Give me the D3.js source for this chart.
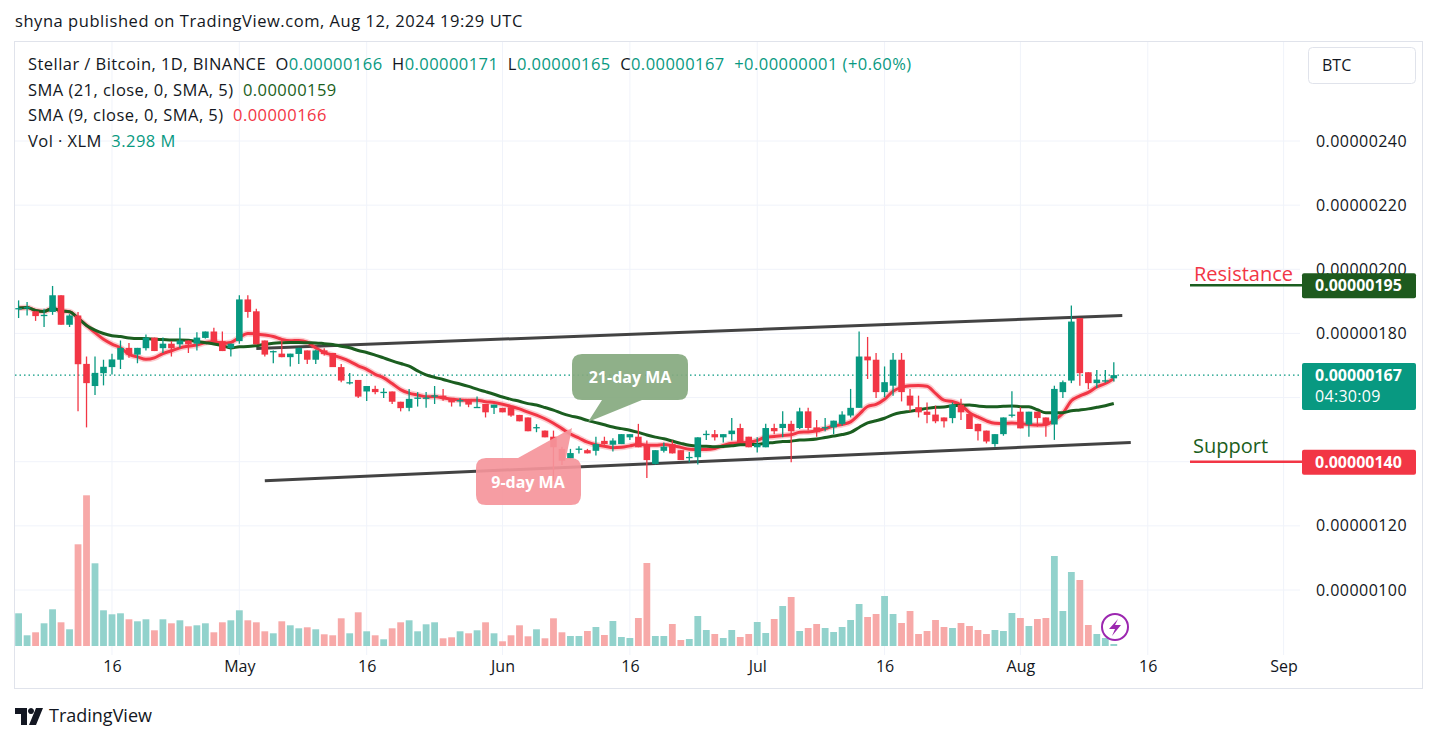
<!DOCTYPE html>
<html><head><meta charset="utf-8">
<script src="https://cdn.jsdelivr.net/npm/d3@7/dist/d3.min.js"></script>
<style>body{margin:0;background:#fff}svg{display:block;font-family:"Open Sans",Roboto,sans-serif}</style>
</head><body><svg id="c" width="1437" height="741"></svg>
<script>
const startDate = new Date(2024,3,5);
const opens  = [187.7,188,186.9,185.6,186.7,191.9,182.7,185.6,170.5,163.6,167.6,169.5,171.8,175.5,173.4,175.4,178.7,175.4,176.8,176.6,177.8,176.8,178.6,180.6,177.6,175.4,177.6,190.6,186.9,177.8,174.3,173.7,172.6,173.6,174.7,171.8,174.7,173.9,169.5,164.6,165.5,161.9,162.7,161.6,161.9,158.7,156.8,159.8,159.8,160.5,160.6,159.9,159,159.6,156.9,158,156.8,156.8,157,154.6,153.8,150.6,149.7,147.8,144,141,143.9,143.6,143.4,146.5,145.3,145.5,147.6,147.8,145.5,139.3,143.4,145.5,143.6,141.3,141.4,148.5,148.6,147.6,148.6,150.5,147.8,144.5,144.5,150.5,150.5,151.8,150.5,155.7,150.7,150.6,150.7,151.8,154.4,156.8,172.8,171.8,161.7,163.7,171.8,160.6,157,155.6,154.7,153.8,153.6,157.8,154.9,151.8,149.7,145.5,148.6,154.5,155.6,151.6,155.6,153.8,151.6,161.7,165.3,184.8,167.9,164.5,165.2,166];
const highs  = [190.3,189.8,186.9,187.7,194.8,191.9,186,186.7,172.8,172.8,171.8,173.7,177.8,177,175.5,179.7,178.7,178.7,177.6,181.8,177.8,180.4,180.6,181.8,180.6,176.8,191.9,191.9,187.7,177.8,174.7,178,173.7,175.5,174.7,175,175.4,173.9,170.5,167.7,165.5,163.6,163.7,162.9,161.9,158.7,162.7,161.7,161.7,163.6,162.7,159.9,159.9,159.6,160.3,158,157.8,156.8,157,154.6,153.8,151.7,149.7,149.7,144.7,144,144.8,144,147.8,147.8,147.3,148.6,148.6,151.8,146.6,143.6,146,146.6,143.6,143,147.6,149.7,149.9,148.6,153.6,151.8,147.8,147.6,151.8,151.8,155.7,152.8,156.8,156.8,153,153.6,152.8,155.7,162.7,180.6,178.9,173.9,169.7,173.9,173.9,162.7,160.6,158.5,157.5,153.8,158.5,159.6,155.7,151.8,149.7,148.6,153.8,162,157,155.6,155.6,153.8,163.7,165.3,188.7,184.8,167.9,168.6,168.6,171];
const lows   = [184.8,185.6,183.9,182,185.8,182.7,182,155.7,150.7,160.8,163.8,167.2,168.9,172.4,170.7,174.7,174.5,173.9,172.8,175.5,173.9,174.7,178.4,177.6,174.5,172.8,176.8,184.9,176.6,172.8,170.7,172.6,169.7,170.5,170.5,170.5,173.1,169.5,164.8,164.1,159.9,158.9,161,159.9,158,155.7,155.7,157.2,156.8,158,159,157.2,157.2,157,156.8,153.8,154.9,155.4,154,152.6,149.5,149.2,147.6,134,139,140.8,142.6,142.6,141.9,145.3,143.2,145.5,146.8,144.5,134.9,139.1,142.9,142.6,140.5,139.8,139.1,146.8,146.6,146,146.6,146,144.5,142.9,144.5,148.6,147.6,139.8,150.2,149.7,147.8,149.5,148.6,151.2,153.8,156.8,165.8,159.9,160.1,160.6,158.8,155.7,153.8,152,152,150.7,152,153,150.2,146.6,145.7,144.7,148.1,153.8,150.4,147.8,150.9,147.8,146.8,159.9,164.5,163.7,162.7,163,164.6,165];
const closes = [187.9,188.2,185.4,185.8,191.9,182.7,185.6,170.4,164.5,167.7,169.6,171.9,175.5,173.4,175.5,178.7,174.5,176.8,175.4,177.8,176.6,178.7,180.6,177.6,174.5,176.8,190.6,186.7,176.6,173.4,174.5,172.6,173.7,175.5,171.8,174.7,173.6,169.5,165.3,164.8,160.3,163.6,161.7,161.8,158.7,156.7,159.6,160,160,160.7,159.6,158.5,159.2,157.8,157.1,155.4,157.8,155.4,154.4,152.6,149.5,150.8,147.6,144.5,140.3,142.7,144.1,142.6,145.5,145.5,146.6,148.6,148.6,144.5,140.5,143.6,144.7,142.6,140.5,141.5,147.6,148.7,147.6,148.6,149.7,146,144.5,145.5,150.5,149.5,151.8,149.5,155.7,150.5,149.2,150.8,152.8,154.7,156.8,172.8,171.6,161.7,164.8,171.8,161.7,157.5,155.4,154.6,152.6,152.6,157.8,155.4,150.2,149.5,146.3,148.6,153.8,154.7,150.4,155.6,153.6,151.6,162.7,164.8,183.7,167.6,164.5,165.6,165.4,167];
const volumes = [32.7,10.7,13.7,22.7,36.7,23.7,16.7,101.7,150.7,82.7,35.7,31.7,32.7,26.7,24.7,26.7,15.7,26.7,22.7,25.7,19.7,20.7,22.7,13.7,23.7,25.7,35.7,25.7,23.7,14.7,12.7,24.7,20.7,17.7,18.7,16.7,11.7,10.7,27.7,12.7,33.7,14.7,10.7,6.7,17.7,23.7,25.7,14.7,21.7,23.7,7.7,8.7,14.7,12.7,15.7,23.7,12.7,4.7,10.7,20.7,9.7,16.7,7.7,27.7,13.7,10,10,15,19,11,25,9,8,28,83,10,10,22,6,7,30,16,12,8,16,9,12,24,13,27,40,49,15,18,22,18,14,19,26,42,29,32,50,32,23,35,12,15,26,19,18,23,20,16,12,16,15,33,28,20,27,28,90,35,74,66,21,12,8,2];
const gridTicks = [240,220,200,180,160,140,120,100];
const priceLabelTicks = [240,220,200,180,120,100];
const timeTickDates = [new Date(2024,3,16),new Date(2024,4,1),new Date(2024,4,16),new Date(2024,5,1),new Date(2024,5,16),new Date(2024,6,1),new Date(2024,6,16),new Date(2024,7,1),new Date(2024,7,16),new Date(2024,8,1)];
const timeTickLabels = ["16","May","16","Jun","16","Jul","16","Aug","16","Sep"];
const channelUpper = [{d:new Date(2024,4,3),v:175.3},{d:new Date(2024,7,13),v:185.6}];
const channelLower = [{d:new Date(2024,4,4),v:134.1},{d:new Date(2024,7,14),v:146}];

const GREEN="#089981", RED="#f23645", DKGREEN="#1b5e20", TXT="#131722", LS="0.45px";
const svg=d3.select("#c");
const x=d3.scaleTime().domain([startDate,new Date(2024,8,1)]).range([18.6,1283.6]);
const y=d3.scaleLinear().domain([100,240]).range([590,141]);
const yv=d3.scaleLinear().domain([0,151]).range([646,495]);
const data=opens.map((o,i)=>({d:d3.timeDay.offset(startDate,i),o,h:highs[i],l:lows[i],c:closes[i],v:volumes[i]}));
function sma(arr,n){return arr.map((_,i)=>d3.mean(arr.slice(Math.max(0,i-n+1),i+1)));}
const ma21=sma(closes,21), ma9=sma(closes,9);

svg.append("rect").attr("width",1437).attr("height",741).attr("fill","#fff");
svg.append("text").attr("x",15).attr("y",27).attr("font-size",16.5).attr("letter-spacing","0.55px").attr("fill",TXT).text("shyna published on TradingView.com, Aug 12, 2024 19:29 UTC");
svg.append("rect").attr("x",14.5).attr("y",41.5).attr("width",1408).attr("height",647).attr("fill","none").attr("stroke","#e0e3eb");

const g=svg.append("g");
g.selectAll(".hg").data(gridTicks).join("line").attr("x1",15).attr("x2",1300).attr("y1",d=>y(d)).attr("y2",d=>y(d)).attr("stroke","#f0f3fa");
g.selectAll(".vg").data(timeTickDates).join("line").attr("x1",d=>x(d)).attr("x2",d=>x(d)).attr("y1",42).attr("y2",655).attr("stroke","#f0f3fa");

svg.append("clipPath").attr("id","pc").append("rect").attr("x",15).attr("y",42).attr("width",1285).attr("height",613);
const p=svg.append("g").attr("clip-path","url(#pc)");

p.selectAll(".vol").data(data).join("rect").attr("x",d=>x(d.d)-3.4).attr("width",6.8)
 .attr("y",d=>yv(d.v)).attr("height",d=>yv(0)-yv(d.v)).attr("fill",d=>d.c>=d.o?"#92d2cc":"#f7a9a8");

const cl=d3.line().x(d=>x(d.d)).y(d=>y(d.v));
[channelUpper,channelLower].forEach(c=>p.append("path").attr("d",cl(c)).attr("stroke","#434343").attr("stroke-width",3).attr("fill","none"));

p.append("line").attr("x1",15).attr("x2",1300).attr("y1",y(167)).attr("y2",y(167)).attr("stroke",GREEN).attr("stroke-dasharray","1.5,3").attr("stroke-width",1.2);

const ml=d3.line().x((d,i)=>x(data[i].d)).y(d=>y(d)).curve(d3.curveMonotoneX);
p.append("path").attr("d",ml(ma9)).attr("stroke",RED).attr("stroke-opacity",0.25).attr("stroke-width",6).attr("fill","none");
p.append("path").attr("d",ml(ma9)).attr("stroke",RED).attr("stroke-width",3).attr("fill","none");
p.append("path").attr("d",ml(ma21)).attr("stroke",DKGREEN).attr("stroke-width",3).attr("fill","none");

const cg=p.selectAll(".cd").data(data).join("g");
cg.append("line").attr("x1",d=>x(d.d)).attr("x2",d=>x(d.d)).attr("y1",d=>y(d.h)).attr("y2",d=>y(d.l)).attr("stroke",d=>d.c>=d.o?GREEN:RED).attr("stroke-width",1.3);
cg.append("rect").attr("x",d=>x(d.d)-3.3).attr("width",6.6).attr("y",d=>y(Math.max(d.o,d.c)))
 .attr("height",d=>Math.max(1.3,Math.abs(y(d.o)-y(d.c)))).attr("fill",d=>d.c>=d.o?GREEN:RED);

svg.append("path").attr("d","M582,354 H678 Q688,354 688,364 V390 Q688,400 678,400 H642 L588,422 L602,400 H582 Q572,400 572,390 V364 Q572,354 582,354 Z").attr("fill","#86a97f").attr("opacity",0.92);
svg.append("text").attr("x",630).attr("y",383).attr("text-anchor","middle").attr("font-size",16).attr("font-weight","bold").attr("fill","#fff").text("21-day MA");
svg.append("path").attr("d","M486,458 H518 L572,428 L566,458 H571 Q581,458 581,468 V495 Q581,505 571,505 H486 Q476,505 476,495 V468 Q476,458 486,458 Z").attr("fill","#f5959b").attr("opacity",0.92);
svg.append("text").attr("x",528).attr("y",488).attr("text-anchor","middle").attr("font-size",16).attr("font-weight","bold").attr("fill","#fff").text("9-day MA");

svg.append("circle").attr("cx",1115).attr("cy",627).attr("r",13).attr("fill","#fff").attr("stroke","#9c27b0").attr("stroke-width",2);
svg.append("path").attr("d","M1118,619 L1109,629 L1115,629 L1112,636 L1121,625 L1115,625 Z").attr("fill","#9c27b0");

const ya=d3.axisRight(y).tickValues(priceLabelTicks).tickSize(0).tickPadding(0).tickFormat(d=>(d/1e8).toFixed(8));
const yg=svg.append("g").attr("transform","translate(1316,0)").call(ya);
yg.select(".domain").remove();
yg.selectAll("text").attr("font-size",16).attr("letter-spacing",LS).attr("fill",TXT).attr("font-family","Open Sans");
const xa=d3.axisBottom(x).tickValues(timeTickDates).tickSize(0).tickPadding(0).tickFormat((d,i)=>timeTickLabels[i]);
const xg=svg.append("g").attr("transform","translate(0,661)").call(xa);
xg.select(".domain").remove();
xg.selectAll("text").attr("font-size",16).attr("fill",TXT).attr("font-family","Open Sans");

svg.append("rect").attr("x",1308.5).attr("y",47.5).attr("width",107).attr("height",36).attr("rx",4).attr("fill","#fff").attr("stroke","#e0e3eb");
svg.append("text").attr("x",1322).attr("y",71).attr("font-size",16).attr("fill",TXT).text("BTC");
function tag(v,fill,h,lines){svg.append("rect").attr("x",1302).attr("y",y(v)-12).attr("width",114).attr("height",h).attr("rx",2).attr("fill",fill);
 lines.forEach((t,k)=>svg.append("text").attr("x",1315).attr("y",y(v)+6+k*21).attr("font-size",16).attr("letter-spacing",k?"0.3px":"0px").attr("font-weight",k?"normal":"bold").attr("fill","#fff").text(t));}
svg.append("line").attr("x1",1190).attr("x2",1302).attr("y1",y(195)).attr("y2",y(195)).attr("stroke",DKGREEN).attr("stroke-width",2.5);
svg.append("line").attr("x1",1190).attr("x2",1302).attr("y1",y(140)).attr("y2",y(140)).attr("stroke",RED).attr("stroke-width",2.5);
tag(195,"#1e5a1e",25,["0.00000195"]);
tag(167,GREEN,47,["0.00000167","04:30:09"]);
tag(140,RED,25,["0.00000140"]);
svg.append("text").attr("x",1194).attr("y",281).attr("font-size",20).attr("fill",RED).text("Resistance");
svg.append("text").attr("x",1193).attr("y",453).attr("font-size",20).attr("fill",DKGREEN).text("Support");

const L=[
 [["Stellar / Bitcoin, 1D, BINANCE  ",TXT],["O",TXT],["0.00000166  ",GREEN],["H",TXT],["0.00000171  ",GREEN],["L",TXT],["0.00000165  ",GREEN],["C",TXT],["0.00000167  +0.00000001 (+0.60%)",GREEN]],
 [["SMA (21, close, 0, SMA, 5)  ",TXT],["0.00000159",DKGREEN]],
 [["SMA (9, close, 0, SMA, 5)  ",TXT],["0.00000166",RED]],
 [["Vol · XLM  ",TXT],["3.298 M",GREEN]]];
L.forEach((row,k)=>{const t=svg.append("text").attr("x",28).attr("y",70+k*25.5).attr("font-size",16.5).attr("letter-spacing",LS).attr("xml:space","preserve").style("white-space","pre");
 row.forEach(([s,c])=>t.append("tspan").attr("fill",c).text(s));});

svg.append("path").attr("d","M15,708 H27 V725 H21 V714 H15 Z M31,714 A3,3 0 1 1 31.01,714 Z M36,708 H43 L36,725 H29 Z").attr("fill",TXT);
svg.append("text").attr("x",49).attr("y",722).attr("font-size",18).attr("fill",TXT).text("TradingView");
</script></body></html>
